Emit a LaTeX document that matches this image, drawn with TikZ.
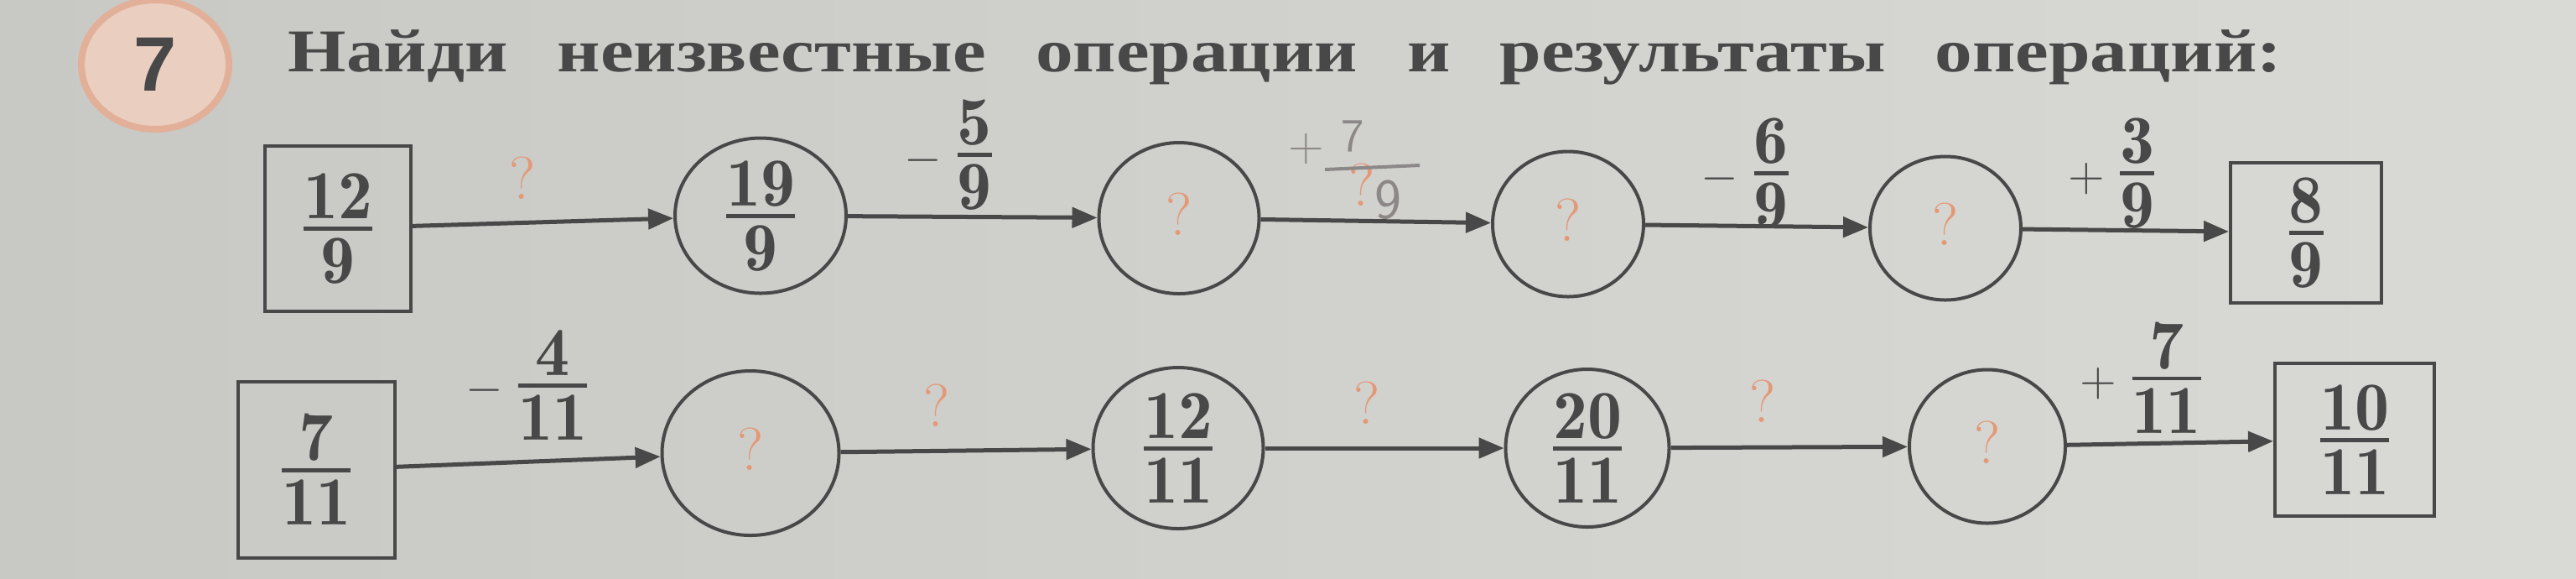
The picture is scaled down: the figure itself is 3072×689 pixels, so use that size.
\documentclass[tikz,border=0pt]{standalone}
\usepackage{fix-cm}
\usepackage{amsmath}
\usepackage{graphicx}
\usepackage{fontspec}
\newfontfamily\titlefont{Liberation Serif}
\newfontfamily\numfont{Liberation Sans}
\usetikzlibrary{arrows.meta,shapes.geometric}
\definecolor{ink}{RGB}{72,72,72}
\definecolor{paperL}{RGB}{200,200,197}
\definecolor{paperR}{RGB}{217,217,213}
\definecolor{qorange}{RGB}{228,152,118}
\definecolor{peach}{RGB}{234,206,192}
\definecolor{peachedge}{RGB}{226,176,152}
\definecolor{pencil}{RGB}{140,136,136}
\newcommand{\frc}[2]{\genfrac{}{}{1.2pt}{1}{\textstyle\mathbf{#1}}{\textstyle\rule{0pt}{14.5pt}\mathbf{#2}}}
\newcommand{\fracsize}{\fontsize{20.5}{24}\selectfont}
\newcommand{\asksize}{\fontsize{18}{20}\selectfont}
\begin{document}
\begin{tikzpicture}[x=0.25pt, y=-0.25pt,
        arrow/.style = {draw=ink, line width=1.25pt, -{Triangle[length=7.5pt,width=6pt]}},
        valbox/.style = {draw=ink, line width=1pt, inner sep=0pt, text=ink,
            text height=10.3pt, text depth=0pt, font=\fracsize},
        valcirc/.style = {ellipse, draw=ink, line width=1pt, inner sep=0pt, text=ink,
            text height=10.3pt, text depth=0pt, font=\fracsize},
        ask/.style = {text=qorange, font=\asksize},
        oplabel/.style = {text=ink, inner sep=0pt, font=\fracsize},
        hand/.style = {text=pencil, inner sep=0pt, font=\sffamily\fontsize{14}{16}\selectfont}]
    \useasboundingbox (0,0) rectangle (3072,689);
    \shade[left color=paperL, right color=paperR] (0,0) rectangle (3072,689);

    \node[ellipse, fill=peach, draw=peachedge, line width=2pt, inner sep=0pt,
        minimum width=44pt, minimum height=38.5pt, text=ink,
        font=\numfont\bfseries\fontsize{23}{23}\selectfont] (num) at (185,77) {7};
    \node[anchor=base west, inner sep=0pt, text=ink] (title) at (343,85)
        {\scalebox{1.232}[1]{\titlefont\bfseries\fontsize{18.1}{20}\selectfont
        Найди\hspace{12pt}неизвестные\hspace{12pt}операции\hspace{12pt}и\hspace{12pt}результаты\hspace{12pt}операций:}};

    \node[valbox, minimum width=43.5pt, minimum height=49.25pt] (a1) at (403,272) {$\frc{12}{9}$};
    \node[valcirc, minimum width=51pt, minimum height=46.25pt] (b1) at (907,257) {$\frc{19}{9}$};
    \node[valcirc, ask, minimum width=47.75pt, minimum height=45pt] (c1) at (1406,260) {?};
    \node[valcirc, ask, minimum width=45pt, minimum height=43.25pt] (d1) at (1870,267) {?};
    \node[valcirc, ask, minimum width=45pt, minimum height=42.75pt] (e1) at (2320,272) {?};
    \node[valbox, minimum width=45pt, minimum height=41.75pt] (f1) at (2750,277) {$\frc{8}{9}$};

    \draw[arrow] (a1) -- (b1);
    \draw[arrow] (b1) -- (c1);
    \draw[arrow] (c1) -- (d1);
    \draw[arrow] (d1) -- (e1);
    \draw[arrow] (e1) -- (f1);

    \node[ask] (q11) at (623,212) {?};
    \node[oplabel] (op12) at (1133,185) {${\scriptstyle -}\,\frc{5}{9}$};
    \node[ask] (q13) at (1624,220) {?};
    \node[hand] (handplus) at (1558,178) {+};
    \node[hand] (handnum) at (1613,162) {7};
    \node[hand, font=\sffamily\fontsize{17}{18}\selectfont] (handden) at (1655,238) {9};
    \draw[pencil, line width=1pt] (1580,202) -- (1693,197);
    \node[oplabel] (op14) at (2083,207) {${\scriptstyle -}\,\frc{6}{9}$};
    \node[oplabel] (op15) at (2520,207) {${\scriptstyle +}\,\frc{3}{9}$};

    \node[valbox, minimum width=46.75pt, minimum height=52.5pt] (a2) at (377,560) {$\frc{7}{11}$};
    \node[valcirc, ask, minimum width=52.75pt, minimum height=49pt] (b2) at (895,540) {?};
    \node[valcirc, minimum width=50.75pt, minimum height=48pt] (c2) at (1405,534) {$\frc{12}{11}$};
    \node[valcirc, minimum width=48.75pt, minimum height=47pt] (d2) at (1893,534) {$\frc{20}{11}$};
    \node[valcirc, ask, minimum width=46.5pt, minimum height=45.75pt] (e2) at (2370,532) {?};
    \node[valbox, minimum width=47.5pt, minimum height=45.5pt] (f2) at (2808,524) {$\frc{10}{11}$};

    \draw[arrow] (a2) -- (b2);
    \draw[arrow] (b2) -- (c2);
    \draw[arrow] (c2) -- (d2);
    \draw[arrow] (d2) -- (e2);
    \draw[arrow] (e2) -- (f2);

    \node[oplabel] (op21) at (630,459) {${\scriptstyle -}\,\frc{4}{11}$};
    \node[ask] (q22) at (1117,483) {?};
    \node[ask] (q23) at (1630,480) {?};
    \node[ask] (q24) at (2102,478) {?};
    \node[oplabel] (op25) at (2555,450) {${\scriptstyle +}\,\frc{7}{11}$};
\end{tikzpicture}
\end{document}
